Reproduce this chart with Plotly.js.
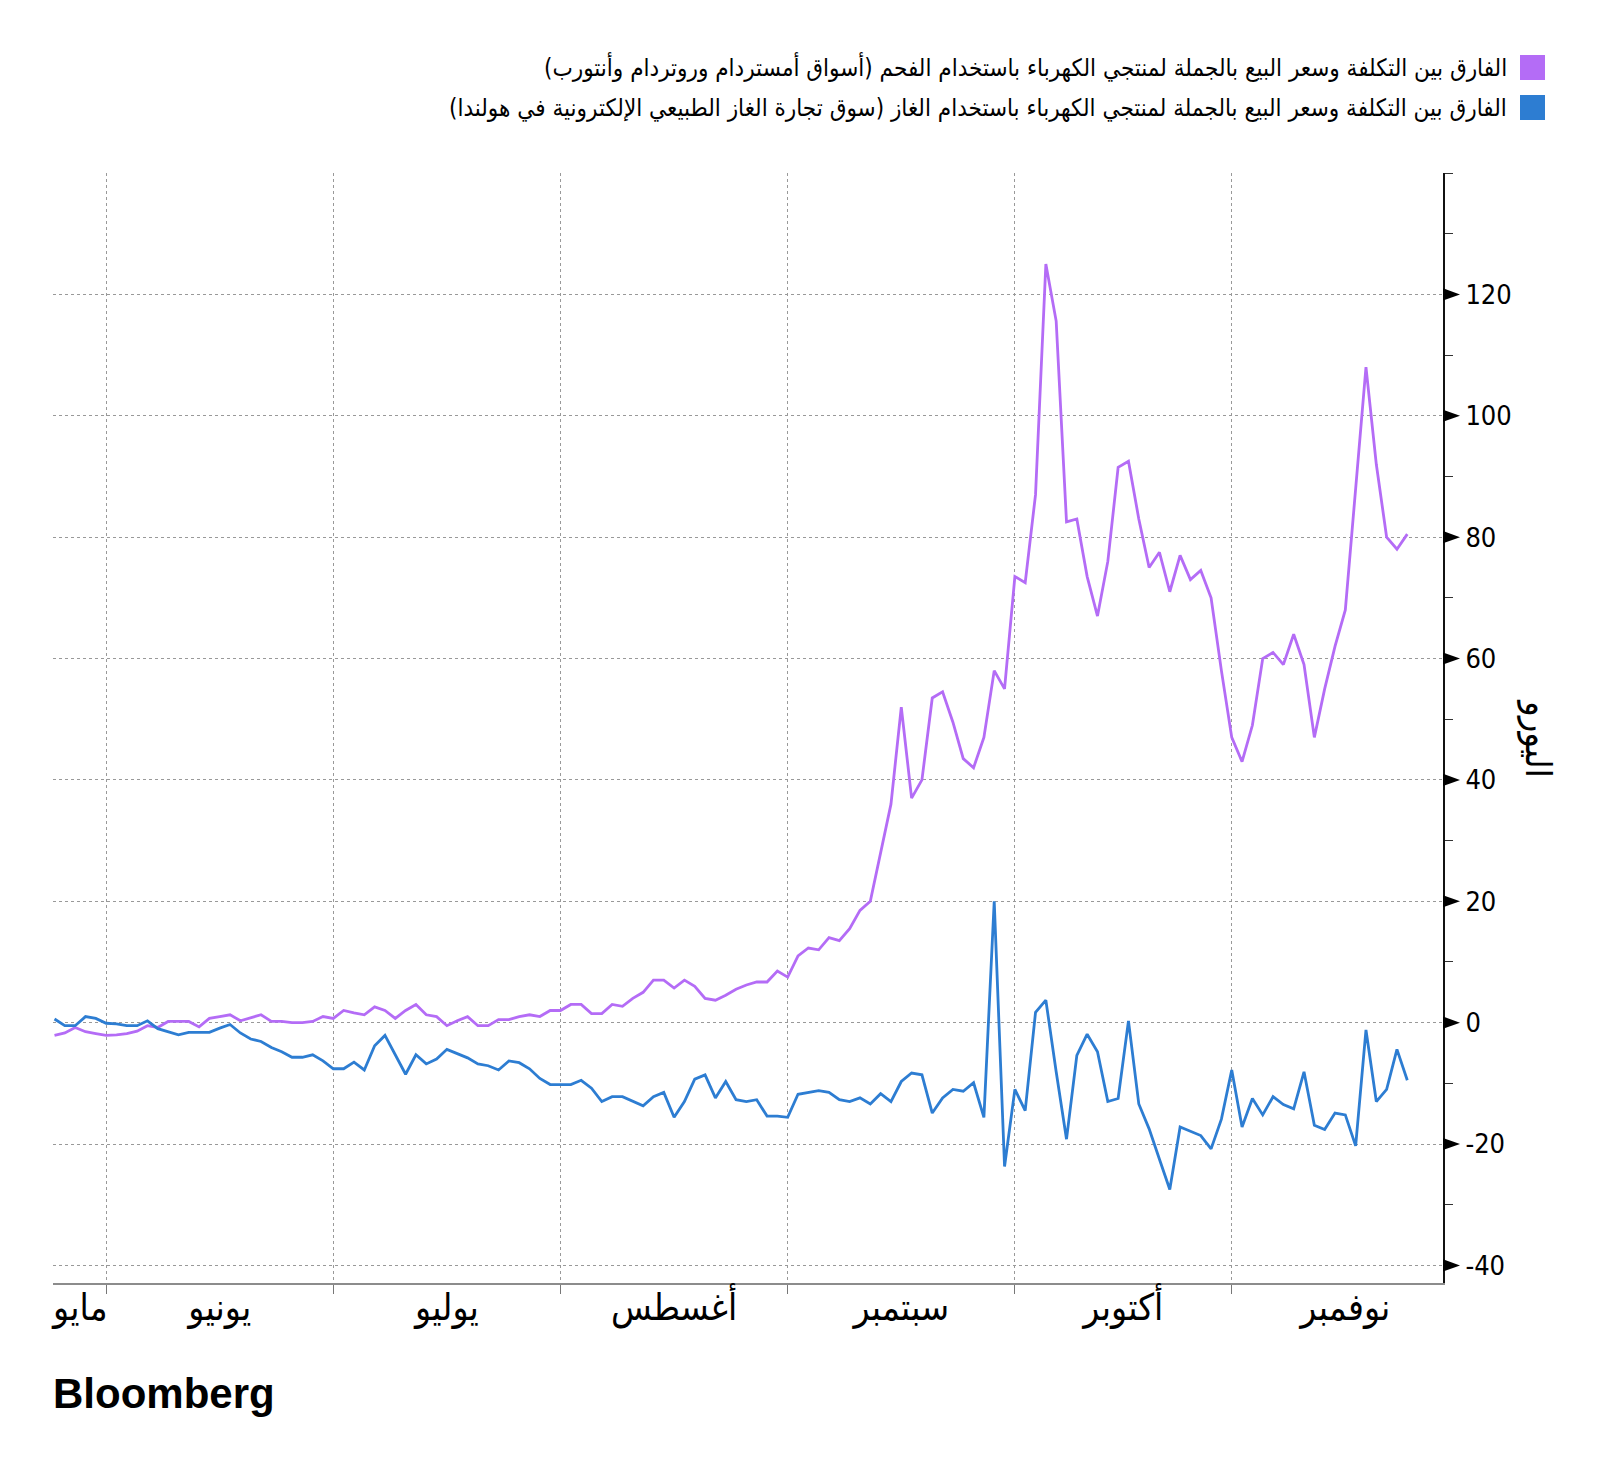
<!DOCTYPE html>
<html>
<head>
<meta charset="utf-8">
<script src="https://cdn.plot.ly/plotly-3.0.1.min.js"></script>
<style>
html,body{margin:0;padding:0;background:#fff;}
#chart{width:1600px;height:1469px;}
</style>
</head>
<body>
<div id="chart"></div>
<script>
// ---- data (business days, 2021) ----
const dates = [
"2021-05-25","2021-05-26","2021-05-27","2021-05-28","2021-05-31",
"2021-06-01","2021-06-02","2021-06-03","2021-06-04","2021-06-07","2021-06-08","2021-06-09","2021-06-10","2021-06-11","2021-06-14","2021-06-15","2021-06-16","2021-06-17","2021-06-18","2021-06-21","2021-06-22","2021-06-23","2021-06-24","2021-06-25","2021-06-28","2021-06-29","2021-06-30",
"2021-07-01","2021-07-02","2021-07-05","2021-07-06","2021-07-07","2021-07-08","2021-07-09","2021-07-12","2021-07-13","2021-07-14","2021-07-15","2021-07-16","2021-07-19","2021-07-20","2021-07-21","2021-07-22","2021-07-23","2021-07-26","2021-07-27","2021-07-28","2021-07-29","2021-07-30",
"2021-08-02","2021-08-03","2021-08-04","2021-08-05","2021-08-06","2021-08-09","2021-08-10","2021-08-11","2021-08-12","2021-08-13","2021-08-16","2021-08-17","2021-08-18","2021-08-19","2021-08-20","2021-08-23","2021-08-24","2021-08-25","2021-08-26","2021-08-27","2021-08-30","2021-08-31",
"2021-09-01","2021-09-02","2021-09-03","2021-09-06","2021-09-07","2021-09-08","2021-09-09","2021-09-10","2021-09-13","2021-09-14","2021-09-15","2021-09-16","2021-09-17","2021-09-20","2021-09-21","2021-09-22","2021-09-23","2021-09-24","2021-09-27","2021-09-28","2021-09-29","2021-09-30",
"2021-10-01","2021-10-04","2021-10-05","2021-10-06","2021-10-07","2021-10-08","2021-10-11","2021-10-12","2021-10-13","2021-10-14","2021-10-15","2021-10-18","2021-10-19","2021-10-20","2021-10-21","2021-10-22","2021-10-25","2021-10-26","2021-10-27","2021-10-28","2021-10-29",
"2021-11-01","2021-11-02","2021-11-03","2021-11-04","2021-11-05","2021-11-08","2021-11-09","2021-11-10","2021-11-11","2021-11-12","2021-11-15","2021-11-16","2021-11-17","2021-11-18","2021-11-19","2021-11-22","2021-11-23","2021-11-24"
];

// Coal spread (Amsterdam-Rotterdam-Antwerp)
const coalSpread = [
-2.1,-1.7,-0.8,-1.5,-1.8,-2.1,-2.0,-1.8,-1.4,-0.5,
-0.8,0.2,0.2,0.2,-0.7,0.7,1.0,1.3,0.3,0.8,
1.3,0.2,0.2,0.0,0.0,0.2,1.0,0.7,2.0,1.6,
1.3,2.6,2.0,0.7,2.0,3.0,1.3,1.0,-0.5,0.3,
1.0,-0.5,-0.5,0.5,0.5,1.0,1.3,1.0,2.0,2.0,
3.0,3.0,1.5,1.5,3.0,2.7,4.0,5.0,7.0,7.0,
5.7,7.0,6.0,4.0,3.7,4.5,5.5,6.2,6.7,6.7,
8.5,7.5,11.0,12.3,12.0,14.0,13.5,15.5,18.5,20.0,
28.0,36.0,52.0,37.0,40.0,53.5,54.5,49.5,43.5,42.0,
47.0,58.0,55.0,73.5,72.5,87.0,125.0,115.6,82.5,83.0,
73.5,67.0,76.0,91.5,92.5,83.0,75.0,77.5,71.0,77.0,
73.0,74.5,70.0,58.0,47.0,43.0,49.0,60.0,61.0,59.0,
64.0,59.0,47.0,55.0,62.0,68.0,88.0,108.0,92.0,80.0,
78.0,80.5
];

// Gas spread (Dutch TTF)
const gasSpread = [
0.6,-0.5,-0.5,1.0,0.7,-0.1,-0.2,-0.5,-0.5,0.3,
-1.0,-1.5,-2.0,-1.6,-1.6,-1.6,-0.9,-0.3,-1.7,-2.7,
-3.1,-4.1,-4.8,-5.7,-5.7,-5.3,-6.3,-7.6,-7.6,-6.5,
-7.8,-3.8,-2.1,-5.3,-8.5,-5.3,-6.8,-6.0,-4.4,-5.1,
-5.8,-6.8,-7.1,-7.8,-6.3,-6.6,-7.6,-9.2,-10.2,-10.2,
-10.2,-9.5,-10.8,-13.0,-12.2,-12.2,-13.0,-13.7,-12.2,-11.5,
-15.6,-13.0,-9.3,-8.6,-12.4,-9.7,-12.7,-13.0,-12.7,-15.4,
-15.4,-15.6,-11.8,-11.5,-11.2,-11.5,-12.7,-13.0,-12.4,-13.4,
-11.7,-13.0,-9.7,-8.3,-8.6,-14.9,-12.4,-11.0,-11.3,-9.9,
-15.6,20.0,-23.7,-11.0,-14.5,1.7,3.7,-8.1,-19.2,-5.4,
-1.9,-4.8,-13.0,-12.5,0.3,-13.4,-17.5,-22.5,-27.5,-17.2,
-17.9,-18.6,-20.8,-15.9,-7.8,-17.2,-12.5,-15.2,-12.2,-13.5,
-14.2,-8.1,-16.9,-17.6,-14.9,-15.2,-20.3,-1.2,-13.0,-11.0,
-4.4,-9.5
];

const seriesNames = [
"الفارق بين التكلفة وسعر البيع بالجملة لمنتجي الكهرباء باستخدام الفحم (أسواق أمستردام وروتردام وأنتورب)",
"الفارق بين التكلفة وسعر البيع بالجملة لمنتجي الكهرباء باستخدام الغاز (سوق تجارة الغاز الطبيعي الإلكترونية في هولندا)"
];
const seriesColors = ["#b46cf6", "#2d7dd2"];

const monthNames = ["مايو","يونيو","يوليو","أغسطس","سبتمبر","أكتوبر","نوفمبر"];
const monthLabelDates = ["2021-05-27 12:00","2021-06-16","2021-07-16","2021-08-17","2021-09-16","2021-10-15 12:00","2021-11-16"];
const monthStarts = ["2021-06-01","2021-07-01","2021-08-02","2021-09-01","2021-10-01","2021-11-01"];

const yTickVals = [-40,-20,0,20,40,60,80,100,120];
const yTickText = ["-40","-20","0","20","40","60","80","100","120"];
const yTitle = "اليورو";

// ---- chart ----
const W = 1600, H = 1469;
const M = {l:53, r:157, t:173, b:186};
const pw = W - M.l - M.r, ph = H - M.t - M.b;
const px = v => (v - M.l) / pw;          // page x -> paper
const py = v => (H - M.b - v) / ph;      // page y -> paper

const arabicFont = "DejaVu Sans Condensed, DejaVu Sans, sans-serif";
const numFont = "DejaVu Sans Condensed, DejaVu Sans, sans-serif";

const traces = [coalSpread, gasSpread].map((vals, k) => ({
  type: "scatter", mode: "lines",
  x: dates, y: vals, name: seriesNames[k],
  line: {color: seriesColors[k], width: 2.8},
  hoverinfo: "skip"
}));

// triangle markers at major y ticks (axis decoration)
const triW = 17 / pw;
const shapes = yTickVals.map(v => ({
  type: "path", xref: "paper", yref: "y",
  path: `M 1 ${v + 1.0} L ${1 + triW} ${v} L 1 ${v - 1.0} Z`,
  fillcolor: "#000", line: {width: 0}
}));

// legend squares
const legendY = [67.5, 107.5];
legendY.forEach((cy, k) => {
  shapes.push({
    type: "rect", xref: "paper", yref: "paper",
    x0: px(1520), x1: px(1545), y0: py(cy + 12.5), y1: py(cy - 12.5),
    fillcolor: seriesColors[k], line: {width: 0}
  });
});

const annotations = legendY.map((cy, k) => ({
  xref: "paper", yref: "paper", x: px(1509), y: py(cy),
  xanchor: "right", yanchor: "middle", showarrow: false,
  text: seriesNames[k], font: {family: arabicFont, size: 24, color: "#000"}
}));
annotations.push({
  xref: "paper", yref: "paper", x: px(1538), y: py(738),
  xanchor: "center", yanchor: "middle", showarrow: false, textangle: 90,
  text: yTitle, font: {family: arabicFont, size: 36, color: "#000"}
});
annotations.push({
  xref: "paper", yref: "paper", x: px(51), y: py(1393),
  xanchor: "left", yanchor: "middle", showarrow: false,
  text: "<b>Bloomberg</b>", font: {family: "Liberation Sans, Arial, sans-serif", size: 42, color: "#000"}
});

const layout = {
  width: W, height: H,
  margin: M,
  paper_bgcolor: "#fff", plot_bgcolor: "#fff",
  showlegend: false,
  xaxis: {
    type: "date",
    range: ["2021-05-24 20:30", "2021-11-29 11:00"],
    rangebreaks: [{bounds: ["sat", "mon"]}],
    tickmode: "array", tickvals: monthLabelDates, ticktext: monthNames,
    ticks: "", showgrid: false, zeroline: false,
    showline: true, linecolor: "#8c8c8c", linewidth: 2,
    ticklabelstandoff: -9,
    tickfont: {family: arabicFont, size: 37, color: "#000"},
    minor: {
      tickmode: "array", tickvals: monthStarts,
      ticks: "outside", ticklen: 9, tickwidth: 1, tickcolor: "#777",
      showgrid: true, gridcolor: "#999", gridwidth: 1, griddash: "dot"
    },
    fixedrange: true
  },
  yaxis: {
    side: "right",
    range: [-42.9, 140],
    tickmode: "array", tickvals: yTickVals, ticktext: yTickText,
    ticks: "outside", ticklen: 15, tickcolor: "rgba(0,0,0,0)",
    showgrid: true, gridcolor: "#999", gridwidth: 1, griddash: "dot",
    zeroline: false,
    showline: true, linecolor: "#111", linewidth: 2,
    tickfont: {family: numFont, size: 27, color: "#000"},
    minor: {
      tickmode: "linear", tick0: 0, dtick: 10,
      ticks: "outside", ticklen: 8, tickwidth: 1, tickcolor: "#333",
      showgrid: false
    },
    fixedrange: true
  },
  shapes: shapes,
  annotations: annotations
};

Plotly.newPlot("chart", traces, layout, {displayModeBar: false, staticPlot: true});
</script>
</body>
</html>
